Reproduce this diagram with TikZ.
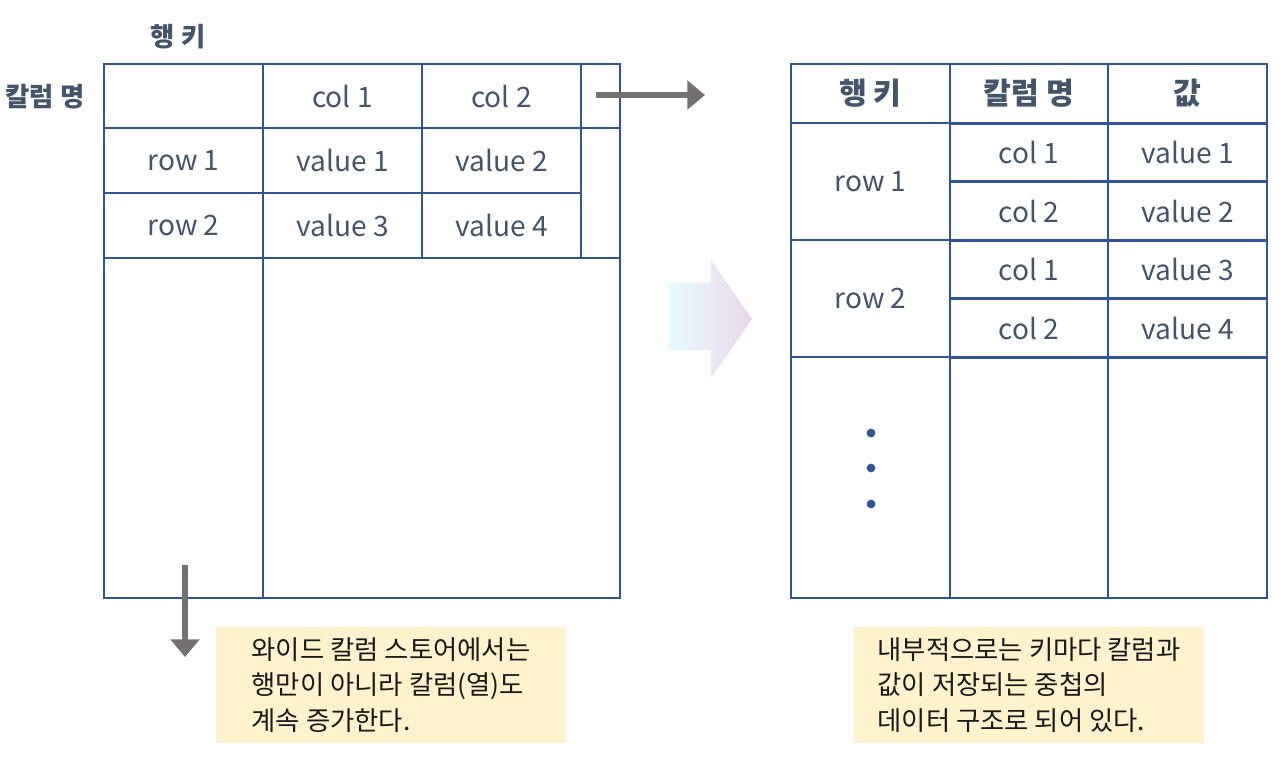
\documentclass[tikz,border=0pt]{standalone}
\usepackage{fontspec}
\setmainfont{Noto Sans CJK KR}
\usepackage{tikz}
\usetikzlibrary{arrows.meta, positioning, calc}
\definecolor{tblline}{RGB}{47,85,151}
\definecolor{tbltext}{RGB}{68,84,106}
\definecolor{notefill}{RGB}{255,242,204}
\definecolor{arrgray}{RGB}{118,113,113}

\begin{document}
\begin{tikzpicture}[
  x=0.02cm, y=-0.02cm,
  cell/.style={rectangle, draw=tblline, line width=1.6pt, inner sep=0pt,
               text=tbltext, font=\fontsize{16}{19}\selectfont},
  head/.style={cell, font=\fontsize{17.2}{19}\selectfont\bfseries},
  lbl/.style={text=tbltext, font=\fontsize{15}{17}\selectfont\bfseries},
  note/.style={rectangle, fill=notefill, minimum width=7cm, minimum height=2.32cm,
               align=left, inner sep=0pt, text=black!90,
               font=\fontsize{15}{20}\selectfont},
  grayarr/.style={-{Triangle[length=10pt, width=16pt]}, arrgray, line width=3pt},
  dot/.style={circle, fill=tblline, inner sep=0pt, minimum size=5pt}]

  \useasboundingbox (0,0) rectangle (1280,767);

  % wide column store
  \node[lbl] (rowkey) at (178,37) {행 키};
  \node[lbl] (colname) at (45,97) {칼럼 명};

  \node[cell, minimum width=3.18cm, minimum height=1.28cm] (lh0) at (183.5,96) {};
  \node[cell, minimum width=3.18cm, minimum height=1.28cm] (lh1) at (342.5,96) {col 1};
  \node[cell, minimum width=3.18cm, minimum height=1.28cm] (lh2) at (501.5,96) {col 2};
  \node[cell, minimum width=0.78cm, minimum height=1.28cm] (lh3) at (600.5,96) {};

  \node[cell, minimum width=3.18cm, minimum height=1.3cm] (lr1) at (183.5,160.5) {row 1};
  \node[cell, minimum width=3.18cm, minimum height=1.3cm] (lv1) at (342.5,160.5) {value 1};
  \node[cell, minimum width=3.18cm, minimum height=1.3cm] (lv2) at (501.5,160.5) {value 2};
  \node[cell, minimum width=3.18cm, minimum height=1.3cm] (lr2) at (183.5,225.5) {row 2};
  \node[cell, minimum width=3.18cm, minimum height=1.3cm] (lv3) at (342.5,225.5) {value 3};
  \node[cell, minimum width=3.18cm, minimum height=1.3cm] (lv4) at (501.5,225.5) {value 4};
  \node[cell, minimum width=0.78cm, minimum height=2.6cm] (lside) at (600.5,193) {};

  \node[cell, minimum width=3.18cm, minimum height=6.8cm] (lkeys) at (183.5,428) {};
  \node[cell, minimum width=7.14cm, minimum height=6.8cm] (lcols) at (441.5,428) {};

  % internal structure
  \node[head, minimum width=3.18cm, minimum height=1.18cm] (rhk) at (870.5,93.5) {행 키};
  \node[head, minimum width=3.16cm, minimum height=1.18cm] (rhc) at (1029,93.5) {칼럼 명};
  \node[head, minimum width=3.18cm, minimum height=1.18cm] (rhv) at (1187.5,93.5) {값};

  \node[cell, minimum width=3.18cm, minimum height=2.34cm] (rr1) at (870.5,181.5) {row 1};
  \node[cell, minimum width=3.16cm, minimum height=1.17cm] (rc1) at (1029,152.5) {col 1};
  \node[cell, minimum width=3.16cm, minimum height=1.17cm] (rc2) at (1029,211) {col 2};
  \node[cell, minimum width=3.18cm, minimum height=1.17cm] (rv1) at (1187.5,152.5) {value 1};
  \node[cell, minimum width=3.18cm, minimum height=1.17cm] (rv2) at (1187.5,211) {value 2};

  \node[cell, minimum width=3.18cm, minimum height=2.34cm] (rr2) at (870.5,298.5) {row 2};
  \node[cell, minimum width=3.16cm, minimum height=1.17cm] (rc3) at (1029,269.5) {col 1};
  \node[cell, minimum width=3.16cm, minimum height=1.17cm] (rc4) at (1029,328) {col 2};
  \node[cell, minimum width=3.18cm, minimum height=1.17cm] (rv3) at (1187.5,269.5) {value 3};
  \node[cell, minimum width=3.18cm, minimum height=1.17cm] (rv4) at (1187.5,328) {value 4};

  \node[cell, minimum width=3.18cm, minimum height=4.82cm] (rb1) at (870.5,477.5) {};
  \node[cell, minimum width=3.16cm, minimum height=4.82cm] (rb2) at (1029,477.5) {};
  \node[cell, minimum width=3.18cm, minimum height=4.82cm] (rb3) at (1187.5,477.5) {};

  \node[dot] (dot1) at (871,433) {};
  \node[dot] (dot2) at (871,468) {};
  \node[dot] (dot3) at (871,504) {};

  % big arrow between the tables
  \shade[left color=blue!14!cyan!10, right color=violet!16]
    (669,283) -- (711,283) -- (711,260) -- (752,319) -- (711,378) -- (711,350) -- (669,350) -- cycle;

  \coordinate (rstart) at (596,95);
  \coordinate (rtip) at (705,95);
  \draw[grayarr] (rstart) -- (rtip);
  \coordinate (dstart) at (185,565);
  \coordinate (dtip) at (185,657);
  \draw[grayarr] (dstart) -- (dtip);

  % notes
  \node[note] (lnote) at (391,685) {와이드 칼럼 스토어에서는\\행만이 아니라 칼럼(열)도\\계속 증가한다.};
  \node[note] (rnote) at (1029,685) {내부적으로는 키마다 칼럼과\\값이 저장되는 중첩의\\데이터 구조로 되어 있다.};
\end{tikzpicture}
\end{document}
